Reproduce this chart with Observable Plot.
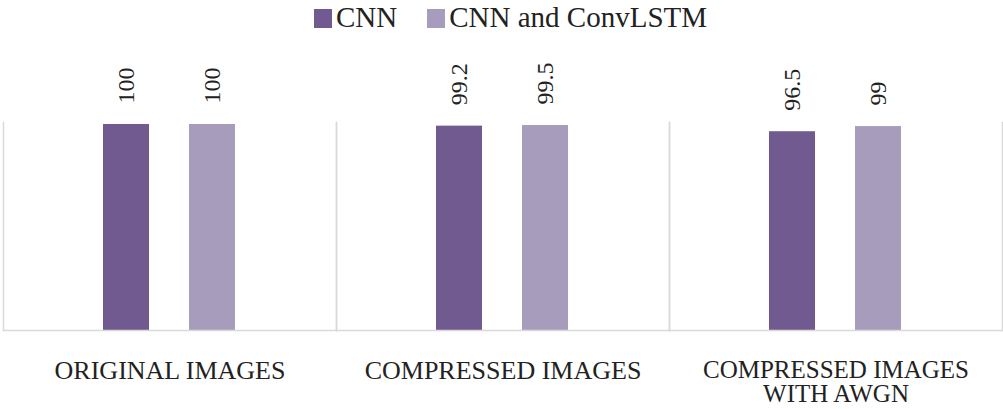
<!DOCTYPE html>
<html>
<head>
<meta charset="utf-8">
<script src="https://cdn.jsdelivr.net/npm/d3@7"></script>
<script src="https://cdn.jsdelivr.net/npm/@observablehq/plot@0.6"></script>
<style>
  html, body { margin: 0; padding: 0; background: #fff; }
  body { width: 1003px; height: 409px; overflow: hidden; font-family: "Liberation Serif", "Times New Roman", serif; }
  #legend { height: 34px; display: flex; justify-content: center; align-items: center; font-size: 29px; color: #222; padding-left: 18px; box-sizing: border-box; }
  #legend .item { display: flex; align-items: center; margin: 0 15px; }
  #legend .sw { width: 18px; height: 19px; margin-right: 4px; margin-top: 2px; }
  #chart svg { display: block; }
</style>
</head>
<body>
<div id="legend"></div>
<div id="chart"></div>
<script>
const categories = ["ORIGINAL IMAGES", "COMPRESSED IMAGES", "COMPRESSED IMAGES\nWITH AWGN"];
const series = ["CNN", "CNN and ConvLSTM"];
const cnnValues = [100, 99.2, 96.5];
const convlstmValues = [100, 99.5, 99];
const colors = ["#715a8f", "#a89cbd"];

const data = [];
categories.forEach((c, i) => {
  data.push({category: c, series: series[0], value: cnnValues[i]});
  data.push({category: c, series: series[1], value: convlstmValues[i]});
});

// legend
const legend = document.getElementById("legend");
series.forEach((s, i) => {
  const item = document.createElement("div");
  item.className = "item";
  const sw = document.createElement("span");
  sw.className = "sw";
  sw.style.background = colors[i];
  const t = document.createElement("span");
  t.textContent = s;
  item.appendChild(sw);
  item.appendChild(t);
  legend.appendChild(item);
});

const font = '"Liberation Serif", "Times New Roman", serif';
const grid = "#d9d9d9";

const chart = Plot.plot({
  width: 1003,
  height: 375,
  marginTop: 88,
  marginBottom: 79,
  marginLeft: 2,
  marginRight: 1,
  style: {fontFamily: font, color: "#222", background: "#fff"},
  fx: {domain: categories, padding: 0, axis: null},
  x: {domain: series, paddingInner: 0.465, paddingOuter: 1.163, axis: null},
  y: {domain: [0, 100], axis: null, insetTop: 2},
  color: {domain: series, range: colors},
  marks: [
    Plot.frame({anchor: "left", stroke: grid, strokeWidth: 1.5}),
    Plot.frame({anchor: "right", stroke: grid, strokeWidth: 1.5}),
    Plot.barY(data, {fx: "category", x: "series", y: "value", fill: "series"}),
    Plot.frame({anchor: "bottom", stroke: grid, strokeWidth: 1.5}),
    Plot.text(data, {
      fx: "category", x: "series", y: "value", text: d => String(d.value),
      rotate: -90, textAnchor: "start", dy: -21, fontSize: 24, fill: "#222", fontFamily: font
    }),
    Plot.axisFx({
      anchor: "bottom", ticks: categories.slice(0, 2), tickSize: 0, label: null,
      fontSize: 26, lineAnchor: "top", dy: 21, fill: "#222", fontFamily: font
    }),
    Plot.axisFx({
      anchor: "bottom", ticks: categories.slice(2), tickSize: 0, label: null,
      fontSize: 25, lineAnchor: "top", lineHeight: 0.98, dy: 21, fill: "#222", fontFamily: font
    })
  ]
});
document.getElementById("chart").appendChild(chart);
</script>
</body>
</html>
